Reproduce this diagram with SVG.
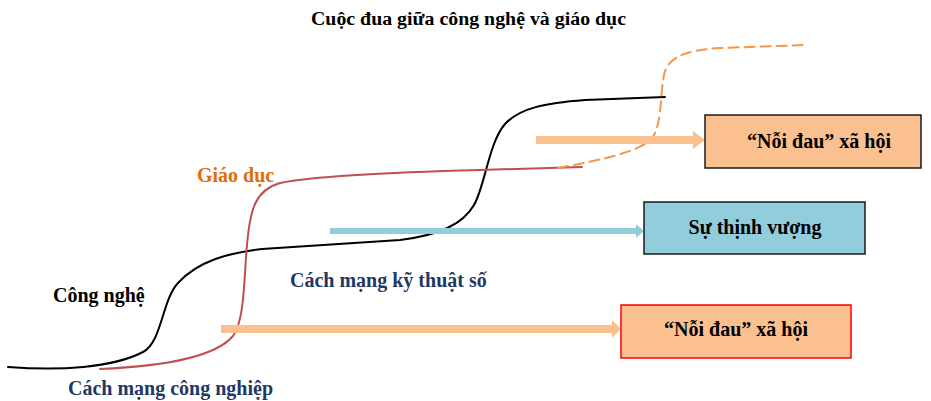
<svg xmlns="http://www.w3.org/2000/svg" width="931" height="401" viewBox="0 0 931 401">
  <style>
    .title { font-size: 18px; fill: #000; }
    .lbl { font-size: 20px; }
    .box-text { font-size: 20px; fill: #000; text-anchor: middle; }
    .curve { fill: none; stroke-width: 2; stroke-linecap: round; }
  </style>

  <g font-family="'Liberation Serif', 'DejaVu Serif', serif" font-weight="bold">
  <text class="title" x="311" y="25" textLength="315" lengthAdjust="spacingAndGlyphs">Cuộc đua giữa công nghệ và giáo dục</text>

  <!-- growth curves and arrows -->
  <g id="connectors">
    <!-- technology curve -->
    <path class="curve" stroke="#000" d="M8,367 C 60,371 112,368 143,352 C 162,342 162,300 178,283 C 198,261 228,253 262,249 L 400,240 C 440,235 463,224 474,205 C 485,186 489,142 505,124 C 520,108 545,103 585,100 L 665,97"/>
    <!-- education curve -->
    <path class="curve" stroke="#C0504D" d="M100,369 C 170,366 216,356 233,336 C 245,320 244,275 247,245 C 250,210 255,190 280,183 C 320,175 400,172 480,170 L 582,167"/>
    <!-- projected education curve -->
    <path class="curve" stroke="#F79646" stroke-dasharray="10,6" d="M558,168 C 600,160 640,152 652,138 C 662,125 660,95 664,75 C 668,55 690,50 720,48 L 805,45"/>

    <!-- block arrows -->
    <path fill="#FAC090" d="M536,136 H693 V131 L705,140 L693,149 V144 H536 Z"/>
    <path fill="#92CDDC" d="M330,228 H636 V224 L644,231 L636,238 V234 H330 Z"/>
    <path fill="#FAC090" d="M221,325 H612 V320 L621,329 L612,338 V333 H221 Z"/>
  </g>

  <g id="lbl-giao-duc"><text class="lbl" x="197" y="182" fill="#E36C09">Giáo dục</text></g>
  <g id="lbl-cong-nghe"><text class="lbl" x="53" y="302" fill="#000">Công nghệ</text></g>
  <g id="lbl-cmcn"><text class="lbl" x="68" y="395" fill="#1F3864">Cách mạng công nghiệp</text></g>
  <g id="lbl-cmkts"><text class="lbl" x="290" y="287" fill="#1F3864">Cách mạng kỹ thuật số</text></g>

  <g id="box-pain-top">
    <rect x="705" y="115" width="216" height="53" fill="#FAC090" stroke="#1a1a1a" stroke-width="1.5"/>
    <text class="box-text" x="819" y="148">“Nỗi đau” xã hội</text>
  </g>
  <g id="box-prosperity">
    <rect x="644" y="202" width="221" height="52" fill="#92CDDC" stroke="#1a1a1a" stroke-width="1.5"/>
    <text class="box-text" x="755" y="234">Sự thịnh vượng</text>
  </g>
  <g id="box-pain-bottom">
    <rect x="621" y="305" width="230" height="53" fill="#FAC090" stroke="#FF0000" stroke-width="1.5"/>
    <text class="box-text" x="736" y="336">“Nỗi đau” xã hội</text>
  </g>
  </g>
</svg>
